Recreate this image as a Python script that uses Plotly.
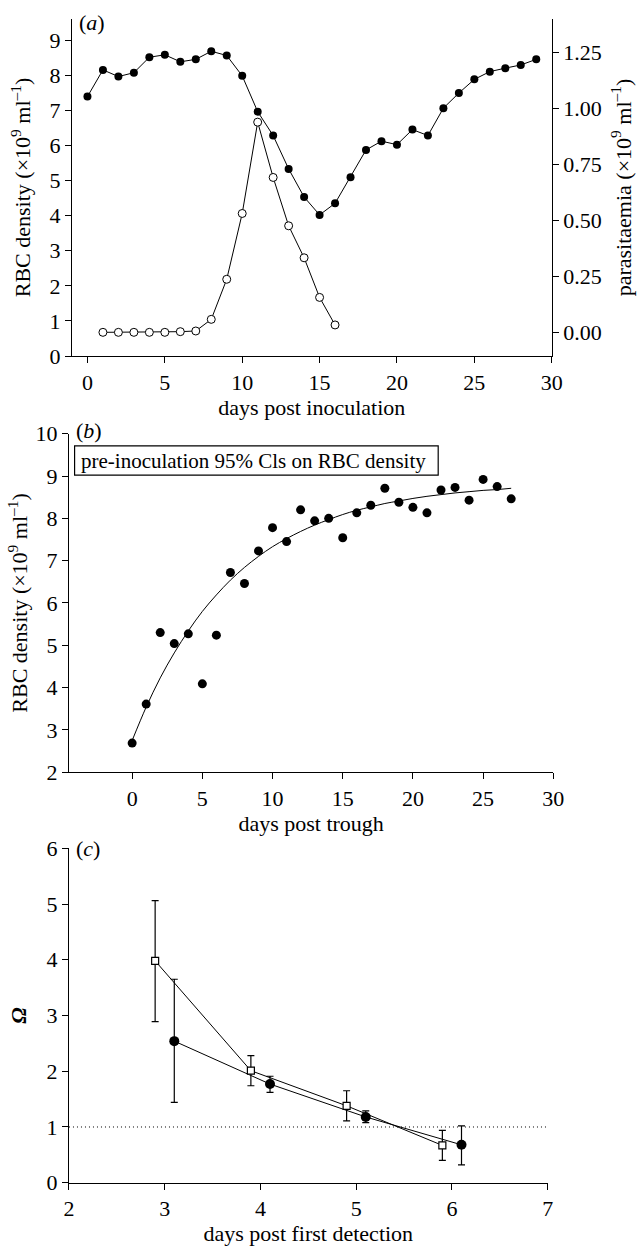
import plotly.graph_objects as go

# ---------- Panel (a) ----------
days_a = list(range(0, 30))
rbc_a = [7.39, 8.15, 7.96, 8.07, 8.51, 8.58, 8.38, 8.45, 8.68, 8.56,
         7.98, 6.96, 6.28, 5.33, 4.53, 4.02, 4.35, 5.09, 5.87, 6.12,
         6.02, 6.45, 6.28, 7.06, 7.49, 7.88, 8.10, 8.20, 8.29, 8.45]
days_par = list(range(1, 17))
parasit = [0.0, 0.0, 0.0, 0.0, 0.0, 0.003, 0.006, 0.058, 0.237, 0.531,
           0.939, 0.692, 0.476, 0.333, 0.156, 0.033]

# ---------- Panel (b) ----------
days_b = list(range(0, 28))
rbc_b = [2.69, 3.61, 5.30, 5.04, 5.27, 4.09, 5.24, 6.72, 6.46, 7.23,
         7.78, 7.45, 8.20, 7.94, 8.00, 7.54, 8.13, 8.31, 8.71, 8.38,
         8.26, 8.13, 8.67, 8.73, 8.43, 8.92, 8.75, 8.46]
fit_x = list(range(0, 28))
fit_y = [2.75, 3.54, 4.23, 4.82, 5.34, 5.80, 6.19, 6.54, 6.84, 7.10,
         7.33, 7.52, 7.69, 7.84, 7.97, 8.09, 8.19, 8.27, 8.35, 8.41,
         8.47, 8.52, 8.56, 8.60, 8.63, 8.66, 8.68, 8.71]
legend_text = "pre-inoculation 95% Cls on RBC density"

# ---------- Panel (c) ----------
sq_x = [2.9, 3.9, 4.9, 5.9]
sq_y = [3.98, 2.01, 1.38, 0.67]
sq_hi = [5.06, 2.28, 1.65, 0.94]
sq_lo = [2.89, 1.74, 1.11, 0.40]
ci_x = [3.1, 4.1, 5.1, 6.1]
ci_y = [2.54, 1.77, 1.18, 0.68]
ci_hi = [3.65, 1.91, 1.29, 1.02]
ci_lo = [1.44, 1.62, 1.08, 0.32]

FONT = "Liberation Serif"
TICK = 22
TITLE = 22

fig = go.Figure()

# (a)
fig.add_trace(go.Scatter(x=days_a, y=rbc_a, mode="lines+markers",
                         line=dict(color="black", width=1),
                         marker=dict(symbol="circle", size=8, color="black"),
                         xaxis="x", yaxis="y", showlegend=False))
fig.add_trace(go.Scatter(x=days_par, y=parasit, mode="lines+markers",
                         line=dict(color="black", width=1),
                         marker=dict(symbol="circle", size=8, color="white",
                                     line=dict(color="black", width=1)),
                         xaxis="x", yaxis="y2", showlegend=False))

# (b)
fig.add_trace(go.Scatter(x=fit_x, y=fit_y, mode="lines",
                         line=dict(color="black", width=1, shape="spline"),
                         xaxis="x2", yaxis="y3", showlegend=False))
fig.add_trace(go.Scatter(x=days_b, y=rbc_b, mode="markers",
                         marker=dict(symbol="circle", size=9, color="black"),
                         xaxis="x2", yaxis="y3", showlegend=False))

# (c)
fig.add_trace(go.Scatter(x=[2, 7], y=[1, 1], mode="lines",
                         line=dict(color="black", width=1, dash="1px,3px"),
                         xaxis="x3", yaxis="y4", showlegend=False))
fig.add_trace(go.Scatter(x=ci_x, y=ci_y, mode="lines+markers",
                         line=dict(color="black", width=1),
                         marker=dict(symbol="circle", size=10, color="black"),
                         error_y=dict(type="data", symmetric=False,
                                      array=[h - v for h, v in zip(ci_hi, ci_y)],
                                      arrayminus=[v - l for l, v in zip(ci_lo, ci_y)],
                                      color="black", thickness=1.2, width=3.5),
                         xaxis="x3", yaxis="y4", showlegend=False))
fig.add_trace(go.Scatter(x=sq_x, y=sq_y, mode="lines+markers",
                         line=dict(color="black", width=1),
                         marker=dict(symbol="square", size=7, color="white",
                                     line=dict(color="black", width=1.2)),
                         error_y=dict(type="data", symmetric=False,
                                      array=[h - v for h, v in zip(sq_hi, sq_y)],
                                      arrayminus=[v - l for l, v in zip(sq_lo, sq_y)],
                                      color="black", thickness=1.2, width=3.5),
                         xaxis="x3", yaxis="y4", showlegend=False))


def axis(title, standoff, **kw):
    d = dict(showline=True, linecolor="black", linewidth=1.2, automargin=False,
             ticks="outside", ticklen=6, tickcolor="black", tickwidth=1.2,
             showgrid=False, zeroline=False,
             tickfont=dict(family=FONT, size=TICK, color="black"),
             title=dict(text=title, standoff=standoff,
                        font=dict(family=FONT, size=TITLE, color="black")))
    d.update(kw)
    return d


yt = "RBC density (×10<sup>9</sup> ml<sup>–1</sup>)"

fig.update_layout(
    template="none",
    width=641, height=1248,
    margin=dict(l=0, r=0, t=0, b=0),
    paper_bgcolor="white", plot_bgcolor="white",
    font=dict(family=FONT, color="black", size=TICK),
    xaxis=axis("days post inoculation", 5, domain=[0.1123, 0.8607], anchor="y",
               range=[-1, 30], tickvals=[0, 5, 10, 15, 20, 25, 30]),
    yaxis=axis(yt, 12, domain=[0.7147, 0.9848], anchor="x",
               range=[0, 9.6], tickvals=list(range(0, 10))),
    yaxis2=axis("parasitaemia (×10<sup>9</sup> ml<sup>–1</sup>)", 14,
                overlaying="y", side="right", anchor="x",
                range=[-0.106, 1.4], tickvals=[0, 0.25, 0.5, 0.75, 1.0, 1.25],
                tickformat=".2f"),
    xaxis2=axis("days post trough", 4, domain=[0.1076, 0.8632], anchor="y3",
                range=[-4.5, 30], tickvals=[0, 5, 10, 15, 20, 25, 30]),
    yaxis3=axis(yt, 1, domain=[0.3812, 0.6525], anchor="x2",
                range=[2, 10], tickvals=list(range(2, 11))),
    xaxis3=axis("days post first detection", 4, domain=[0.1076, 0.8544], anchor="y4",
                range=[2, 7], tickvals=[2, 3, 4, 5, 6, 7]),
    yaxis4=axis("<i><b>Ω</b></i>", 13, domain=[0.0523, 0.3203], anchor="x3",
                range=[0, 6], tickvals=list(range(0, 7))),
)

fig.add_shape(type="rect", xref="x2", yref="y3", x0=-4.1, x1=21.8, y0=9.02, y1=9.71,
              line=dict(color="black", width=1.2), fillcolor="rgba(0,0,0,0)")
fig.add_annotation(xref="x2", yref="y3", x=-3.8, y=9.365, xanchor="left", yanchor="middle",
                   text=legend_text, showarrow=False,
                   font=dict(family=FONT, size=21, color="black"))

for lab, ax, ay, yy in [("(<i>a</i>)", "x domain", "y domain", 0.99),
                        ("(<i>b</i>)", "x2 domain", "y3 domain", 1.01),
                        ("(<i>c</i>)", "x3 domain", "y4 domain", 1.0)]:
    fig.add_annotation(xref=ax, yref=ay, x=0.01, y=yy, xanchor="left", yanchor="middle",
                       text=lab, showarrow=False,
                       font=dict(family=FONT, size=TITLE, color="black"))

fig.write_html("out.html", config={"displayModeBar": False},
               post_script="document.body.style.margin='0';document.body.style.overflow='hidden';")
